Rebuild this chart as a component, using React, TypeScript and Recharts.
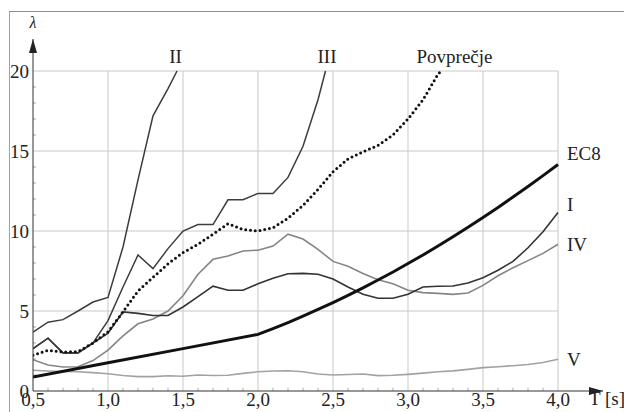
import React from 'react';
import { LineChart, Line, XAxis, YAxis, ReferenceLine, ReferenceDot } from 'recharts';

// periods T [s]
const T_GRID = [
  0.5, 0.6, 0.7, 0.8, 0.9, 1.0, 1.1, 1.2, 1.3, 1.4, 1.5, 1.6, 1.7, 1.8, 1.9, 2.0, 2.1, 2.2,
  2.3, 2.4, 2.5, 2.6, 2.7, 2.8, 2.9, 3.0, 3.1, 3.2, 3.3, 3.4, 3.5, 3.6, 3.7, 3.8, 3.9, 4.0,
];
const LAMBDA_I = [
  2.65, 3.3, 2.38, 2.38, 3.0, 3.62, 4.94, 4.85, 4.72, 4.72, 5.25, 5.9, 6.55, 6.3, 6.3, 6.7, 7.05, 7.33,
  7.35, 7.3, 7.0, 6.5, 6.05, 5.8, 5.8, 6.05, 6.5, 6.55, 6.56, 6.75, 7.08, 7.55, 8.1, 8.95, 9.95, 11.15,
];
const LAMBDA_IV = [
  1.96, 1.62, 1.5, 1.52, 1.9, 2.55, 3.44, 4.2, 4.5, 5.0, 5.95, 7.3, 8.23, 8.44, 8.75, 8.8, 9.06, 9.8,
  9.5, 8.85, 8.1, 7.8, 7.35, 6.95, 6.7, 6.3, 6.15, 6.1, 6.04, 6.12, 6.6, 7.2, 7.7, 8.15, 8.6, 9.17,
];
const LAMBDA_V = [
  1.3, 1.25, 1.22, 1.2, 1.15, 1.08, 0.97, 0.9, 0.9, 0.95, 0.92, 1.0, 0.97, 0.98, 1.1, 1.2, 1.25, 1.27,
  1.2, 1.06, 1.0, 1.03, 1.06, 0.96, 0.98, 1.04, 1.12, 1.2, 1.26, 1.35, 1.46, 1.52, 1.58, 1.66, 1.78, 1.98,
];

const T_EC8 = [0.5, 1.0, 1.5, 2.0, 2.1, 2.2, 2.3, 2.4, 2.5, 2.6, 2.7, 2.8, 2.9, 3.0, 3.1, 3.2, 3.3, 3.4, 3.5, 3.6, 3.7, 3.8, 3.9, 4.0];
const LAMBDA_EC8 = [0.88, 1.77, 2.65, 3.54, 3.9, 4.28, 4.68, 5.1, 5.53, 5.98, 6.45, 6.94, 7.44, 7.97, 8.5, 9.06, 9.64, 10.23, 10.84, 11.47, 12.12, 12.78, 13.46, 14.16];

const T_II = [0.5, 0.6, 0.7, 0.8, 0.9, 1.0, 1.1, 1.2, 1.3, 1.4, 1.46];
const LAMBDA_II = [3.68, 4.3, 4.46, 5.0, 5.56, 5.85, 9.0, 13.2, 17.2, 18.9, 20];

const T_III = [0.5, 0.6, 0.7, 0.8, 0.9, 1.0, 1.1, 1.2, 1.3, 1.4, 1.5, 1.6, 1.7, 1.8, 1.9, 2.0, 2.1, 2.2, 2.3, 2.4, 2.45];
const LAMBDA_III = [2.65, 3.3, 2.38, 2.38, 3.0, 4.4, 6.5, 8.5, 7.65, 8.9, 10.0, 10.4, 10.4, 11.95, 11.95, 12.35, 12.35, 13.35, 15.3, 18.2, 20];

const T_AVG = [
  0.5, 0.6, 0.7, 0.8, 0.9, 1.0, 1.1, 1.2, 1.3, 1.4, 1.5, 1.6, 1.7, 1.8, 1.9, 2.0, 2.1, 2.2,
  2.3, 2.4, 2.5, 2.6, 2.7, 2.8, 2.9, 3.0, 3.1, 3.2, 3.22,
];
const LAMBDA_AVG = [
  2.23, 2.54, 2.44, 2.46, 3.0, 3.7, 4.95, 6.25, 7.1, 7.95, 8.65, 9.17, 9.8, 10.45, 10.1, 10.0, 10.2, 10.8,
  11.6, 12.6, 13.7, 14.5, 14.95, 15.35, 16.0, 17.0, 18.2, 19.8, 20,
];

const X_TICKS = [0.5, 1.0, 1.5, 2.0, 2.5, 3.0, 3.5, 4.0];
const Y_TICKS = [0, 5, 10, 15, 20];
const X_MINOR = [0.6, 0.7, 0.8, 0.9, 1.1, 1.2, 1.3, 1.4, 1.6, 1.7, 1.8, 1.9, 2.1, 2.2, 2.3, 2.4, 2.6, 2.7, 2.8, 2.9, 3.1, 3.2, 3.3, 3.4, 3.6, 3.7, 3.8, 3.9];
const Y_MINOR = [1, 2, 3, 4, 6, 7, 8, 9, 11, 12, 13, 14, 16, 17, 18, 19];

const zip = (ts: number[], vs: number[]) => ts.map((t, i) => ({ t, v: vs[i] }));

const FONT = 'Liberation Serif';
const TEXT = '#222';
const GRID = '#c9c9c9';

const seriesLabel = (value: string, position: 'top' | 'right', offset: number) => ({
  value, position, offset, fill: TEXT, fontSize: 19, fontFamily: FONT,
});

const ArrowRight = ({ cx, cy }: { cx?: number; cy?: number }) => (
  <path d={`M${cx},${cy} L${(cx ?? 0) - 14},${(cy ?? 0) - 4} L${(cx ?? 0) - 14},${(cy ?? 0) + 4} Z`} fill="#222" />
);
const ArrowUp = ({ cx, cy }: { cx?: number; cy?: number }) => (
  <path d={`M${cx},${cy} L${(cx ?? 0) - 4},${(cy ?? 0) + 14} L${(cx ?? 0) + 4},${(cy ?? 0) + 14} Z`} fill="#222" />
);

export default function App() {
  return (
    <div style={{ position: 'absolute', left: 0, top: 0, width: 624, height: 412, background: '#fff', fontFamily: FONT }}>
      <style>{`svg text, svg tspan { font-family: 'Liberation Serif', serif !important; }`}</style>
      <div style={{ position: 'absolute', left: 9, top: 11, right: 0, bottom: 0, borderTop: '1.5px solid #8c8c8c', borderLeft: '1.5px solid #a0a0a0' }} />
      <LineChart width={624} height={412} margin={{ top: 39, right: 21, bottom: 0, left: 0 }}>
        <XAxis
          type="number" dataKey="t" domain={[0.5, 4.3]} ticks={X_TICKS} height={21}
          tickFormatter={(v: number) => v.toFixed(1).replace('.', ',')}
          tick={{ fill: TEXT, fontSize: 19, fontFamily: FONT }}
          tickLine={false} tickSize={0} tickMargin={2}
          axisLine={{ stroke: '#333', strokeWidth: 1 }} allowDataOverflow
        />
        <YAxis
          type="number" domain={[0, 22]} ticks={Y_TICKS} width={33}
          tick={{ fill: TEXT, fontSize: 19, fontFamily: FONT }}
          tickLine={false} tickSize={0} tickMargin={4}
          axisLine={{ stroke: '#333', strokeWidth: 1 }} allowDataOverflow
        />

        {/* grid only inside 0.5..4.0 x 0..20 */}
        {Y_TICKS.filter(v => v > 0).map(v => (
          <ReferenceLine key={'h' + v} segment={[{ x: 0.5, y: v }, { x: 4.0, y: v }]} stroke={GRID} strokeWidth={1} />
        ))}
        {X_TICKS.filter(v => v > 0.5).map(v => (
          <ReferenceLine key={'v' + v} segment={[{ x: v, y: 0 }, { x: v, y: 20 }]} stroke={GRID} strokeWidth={1} />
        ))}
        {X_MINOR.map(v => (
          <ReferenceLine key={'mx' + v} segment={[{ x: v, y: 0 }, { x: v, y: 0.2 }]} stroke="#aaa" strokeWidth={1} />
        ))}
        {Y_MINOR.map(v => (
          <ReferenceLine key={'my' + v} segment={[{ x: 0.5, y: v }, { x: 0.52, y: v }]} stroke="#aaa" strokeWidth={1} />
        ))}

        <Line data={zip(T_GRID, LAMBDA_V)} dataKey="v" stroke="#a2a2a2" strokeWidth={1.6} dot={false} isAnimationActive={false} />
        <Line data={zip(T_GRID, LAMBDA_IV)} dataKey="v" stroke="#858585" strokeWidth={1.6} dot={false} isAnimationActive={false} />
        <Line data={zip(T_GRID, LAMBDA_I)} dataKey="v" stroke="#333" strokeWidth={1.6} dot={false} isAnimationActive={false} />
        <Line data={zip(T_III, LAMBDA_III)} dataKey="v" stroke="#3c3c3c" strokeWidth={1.5} dot={false} isAnimationActive={false} />
        <Line data={zip(T_II, LAMBDA_II)} dataKey="v" stroke="#3c3c3c" strokeWidth={1.5} dot={false} isAnimationActive={false} />
        <Line data={zip(T_EC8, LAMBDA_EC8)} dataKey="v" stroke="#111" strokeWidth={3} dot={false} isAnimationActive={false} />
        <Line data={zip(T_AVG, LAMBDA_AVG)} dataKey="v" stroke="#111" strokeWidth={3} strokeDasharray="0 4.8" strokeLinecap="round" dot={false} isAnimationActive={false} />

        {/* axis arrows */}
        <ReferenceDot x={4.3} y={0} ifOverflow="visible" shape={<ArrowRight />} />
        <ReferenceDot x={0.5} y={22} ifOverflow="visible" shape={<ArrowUp />} />

        {/* labels */}
        <ReferenceDot x={0.5} y={22} r={0} ifOverflow="visible" label={{ value: 'λ', position: 'top', offset: 11, fill: TEXT, fontSize: 16, fontFamily: FONT, fontStyle: 'italic' }} />
        <ReferenceDot x={4.3} y={0} r={0} ifOverflow="visible" label={{ value: 'T [s]', position: 'bottom', offset: 1, dx: 4, fill: TEXT, fontSize: 19, fontFamily: FONT }} />
        <ReferenceDot x={1.45} y={20} r={0} ifOverflow="visible" label={seriesLabel('II', 'top', 8)} />
        <ReferenceDot x={2.46} y={20} r={0} ifOverflow="visible" label={seriesLabel('III', 'top', 8)} />
        <ReferenceDot x={3.31} y={20} r={0} ifOverflow="visible" label={seriesLabel('Povprečje', 'top', 8)} />
        <ReferenceDot x={4.0} y={14.84} r={0} ifOverflow="visible" label={seriesLabel('EC8', 'right', 9)} />
        <ReferenceDot x={4.0} y={11.7} r={0} ifOverflow="visible" label={seriesLabel('I', 'right', 9)} />
        <ReferenceDot x={4.0} y={9.2} r={0} ifOverflow="visible" label={seriesLabel('IV', 'right', 9)} />
        <ReferenceDot x={4.0} y={2.0} r={0} ifOverflow="visible" label={seriesLabel('V', 'right', 9)} />
      </LineChart>
    </div>
  );
}
